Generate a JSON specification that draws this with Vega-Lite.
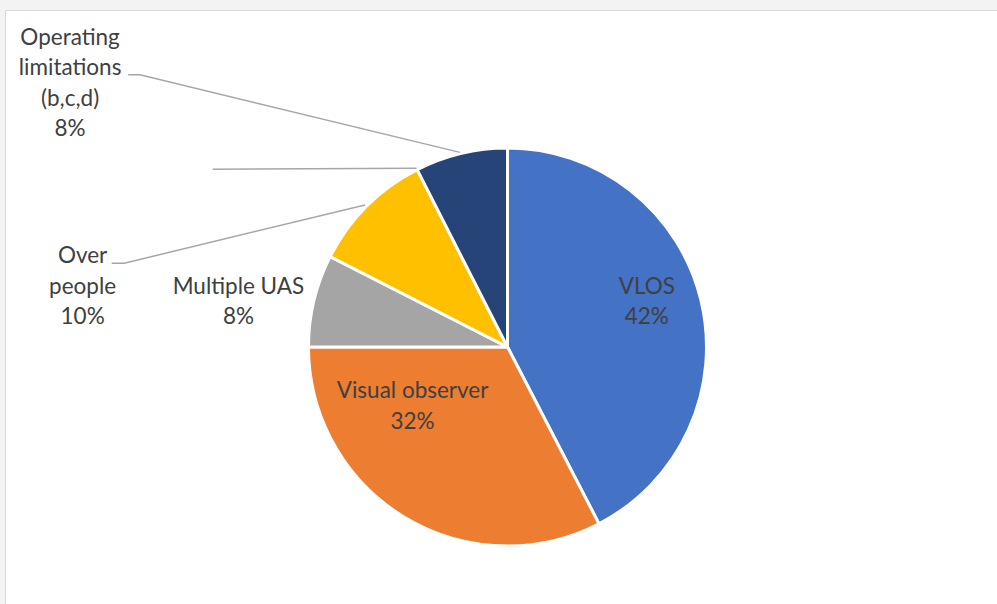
{
  "$schema": "https://vega.github.io/schema/vega-lite/v6.json",
  "autosize": {"type": "fit", "contains": "padding"},
  "width": 997,
  "height": 604,
  "padding": {"left": 5, "top": 10, "right": 0, "bottom": 0},
  "background": "#f3f3f3",
  "config": {"view": {"fill": "white", "stroke": "#d9d9d9", "strokeWidth": 1}},
  "datasets": {
    "slices": [
      {"category": "VLOS", "share": 42.4, "order": 1},
      {"category": "Visual observer", "share": 32.6, "order": 2},
      {"category": "Multiple UAS", "share": 7.5, "order": 3},
      {"category": "Over people", "share": 10.0, "order": 4},
      {"category": "Operating limitations (b,c,d)", "share": 7.5, "order": 5}
    ],
    "labels": [
      {"text": "VLOS\n42%", "lx": 0.700, "ly": 0.268},
      {"text": "Visual observer\n32%", "lx": -0.477, "ly": -0.258},
      {"text": "Multiple UAS\n8%", "lx": -1.352, "ly": 0.268},
      {"text": "Over\npeople\n10%", "lx": -2.135, "ly": 0.420},
      {"text": "Operating\nlimitations\n(b,c,d)\n8%", "lx": -2.198, "ly": 1.518}
    ],
    "leaders": [
      {"id": "ol", "seq": 1, "lx": -1.906, "ly": 1.368},
      {"id": "ol", "seq": 2, "lx": -1.847, "ly": 1.368},
      {"id": "ol", "seq": 3, "lx": -0.239, "ly": 0.978},
      {"id": "blank", "seq": 1, "lx": -1.481, "ly": 0.893},
      {"id": "blank", "seq": 2, "lx": -0.457, "ly": 0.898},
      {"id": "op", "seq": 1, "lx": -1.989, "ly": 0.421},
      {"id": "op", "seq": 2, "lx": -1.926, "ly": 0.421},
      {"id": "op", "seq": 3, "lx": -0.716, "ly": 0.714}
    ]
  },
  "layer": [
    {
      "data": {"name": "slices"},
      "mark": {"type": "arc", "outerRadius": 199, "stroke": "white", "strokeWidth": 3},
      "encoding": {
        "x": {"datum": 0, "type": "quantitative", "scale": {"domain": [-2.5251, 2.4598], "nice": false, "zero": false}, "axis": null},
        "y": {"datum": 0, "type": "quantitative", "scale": {"domain": [-1.2915, 1.6935], "nice": false, "zero": false}, "axis": null},
        "theta": {"field": "share", "type": "quantitative", "stack": true},
        "order": {"field": "order", "type": "quantitative"},
        "color": {
          "field": "category", "type": "nominal", "legend": null,
          "scale": {
            "domain": ["VLOS", "Visual observer", "Multiple UAS", "Over people", "Operating limitations (b,c,d)"],
            "range": ["#4472C4", "#ED7D31", "#A5A5A5", "#FFC000", "#264478"]
          }
        }
      }
    },
    {
      "data": {"name": "leaders"},
      "mark": {"type": "line", "color": "#a6a6a6", "strokeWidth": 1.5},
      "encoding": {
        "x": {"field": "lx", "type": "quantitative", "axis": null},
        "y": {"field": "ly", "type": "quantitative", "axis": null},
        "detail": {"field": "id"},
        "order": {"field": "seq", "type": "quantitative"}
      }
    },
    {
      "data": {"name": "labels"},
      "mark": {"type": "text", "font": "Lato", "fontSize": 22.5, "lineHeight": 30.5, "lineBreak": "\n", "align": "center", "baseline": "alphabetic", "color": "#404040"},
      "encoding": {
        "x": {"field": "lx", "type": "quantitative", "axis": null},
        "y": {"field": "ly", "type": "quantitative", "axis": null},
        "text": {"field": "text"}
      }
    }
  ]
}
